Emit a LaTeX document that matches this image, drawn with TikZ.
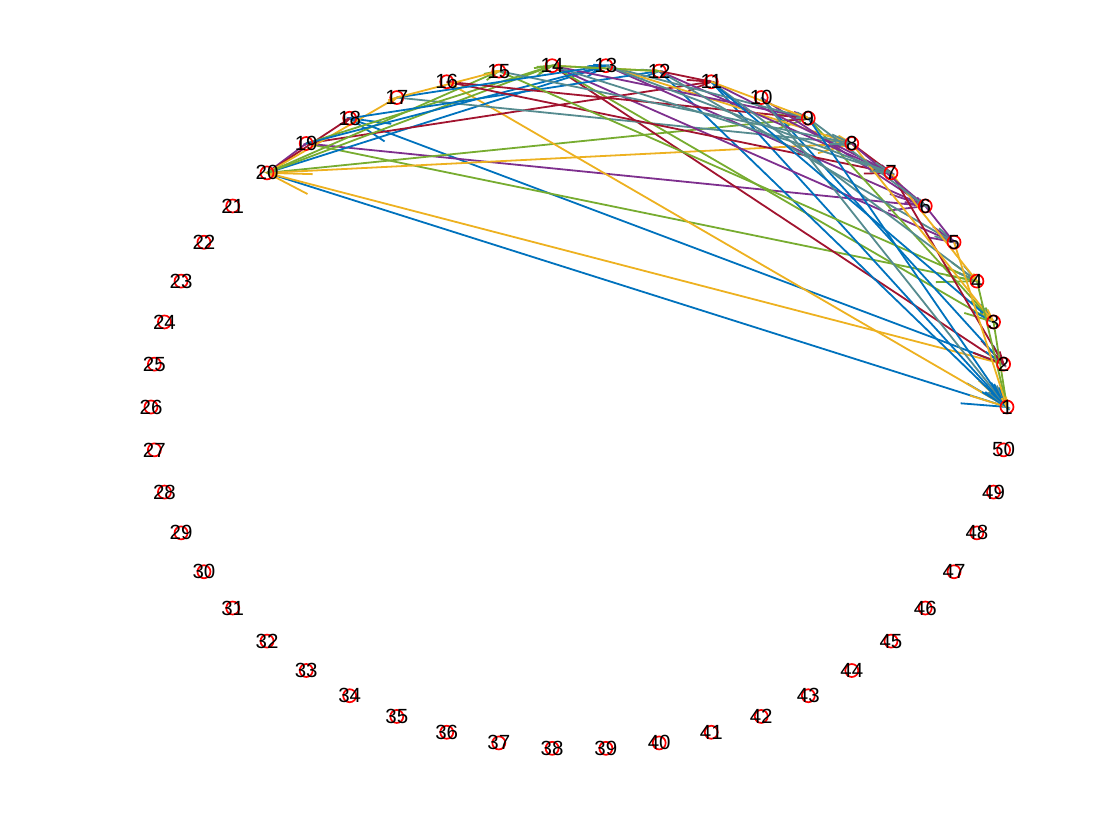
\documentclass[tikz,border=0pt]{standalone}
\usepackage{fontspec}
\setmainfont{Liberation Sans}
\usetikzlibrary{calc}
\definecolor{cB}{HTML}{0072BD}
\definecolor{cY}{HTML}{EDB120}
\definecolor{cP}{HTML}{7E2F8E}
\definecolor{cG}{HTML}{77AC30}
\definecolor{cR}{HTML}{A2142F}
\definecolor{cT}{HTML}{558B8F}
\tikzset{
  edge/.style={line width=1.8pt},
  marker/.style={circle,draw=red,line width=1.7pt,minimum size=13pt,inner sep=0pt},
  lab/.style={font=\fontsize{20.5}{20.5}\selectfont,inner sep=0pt,text=black}
}
\newcommand{\qv}[3]{%
  \draw[edge,#3] (n#1) -- (n#2);
  \draw[edge,#3] ($(n#2)!0.06!13:(n#1)$) -- (n#2) -- ($(n#2)!0.06!-13:(n#1)$);
}
\begin{document}
\begin{tikzpicture}[x=1pt,y=-1pt]
\useasboundingbox (0,0) rectangle (1120,840);
\foreach \i in {1,...,50}{
  \coordinate (n\i) at ({579+428*cos((\i-1)*7.2)},{407-342*sin((\i-1)*7.2)});
}
% edges
\qv{20}{1}{cB}
\qv{2}{20}{cY}
\qv{2}{18}{cB}
\qv{19}{4}{cG}
\qv{19}{6}{cP}
\qv{20}{9}{cG}
\qv{20}{8}{cY}
\qv{16}{1}{cY}
\qv{14}{2}{cR}
\qv{20}{13}{cB}
\qv{19}{11}{cR}
\qv{17}{8}{cT}
\qv{14}{3}{cG}
\qv{11}{1}{cB}
\qv{10}{2}{cB}
\qv{12}{1}{cB}
\qv{13}{6}{cP}
\qv{14}{5}{cP}
\qv{20}{19}{cP}
\qv{20}{18}{cR}
\qv{20}{17}{cY}
\qv{20}{15}{cG}
\qv{20}{14}{cG}
\qv{19}{14}{cG}
\qv{18}{12}{cB}
\qv{19}{13}{cB}
\qv{16}{7}{cR}
\qv{16}{9}{cR}
\qv{15}{4}{cG}
\qv{9}{3}{cG}
\qv{13}{8}{cY}
\qv{12}{7}{cP}
\qv{11}{7}{cP}
\qv{14}{9}{cP}
\qv{10}{6}{cP}
\qv{15}{8}{cT}
\qv{14}{7}{cT}
\qv{13}{9}{cT}
\qv{12}{5}{cT}
\qv{11}{4}{cT}
\qv{10}{1}{cT}
\qv{11}{3}{cB}
\qv{9}{1}{cB}
\qv{17}{13}{cB}
\qv{7}{2}{cR}
\qv{8}{7}{cR}
\qv{12}{11}{cR}
\qv{8}{3}{cY}
\qv{7}{4}{cY}
\qv{11}{9}{cY}
\qv{14}{12}{cY}
\qv{17}{15}{cY}
\qv{6}{5}{cP}
\qv{8}{6}{cP}
\qv{3}{1}{cG}
\qv{4}{1}{cG}
\qv{12}{14}{cG}
\qv{9}{6}{cT}
\qv{13}{7}{cT}
\qv{5}{1}{cY}
% markers and labels
\foreach \i in {1,...,50}{
  \node[marker] (m\i) at (n\i) {};
}
\foreach \i in {1,...,50}{
  \node[lab] (l\i) at (n\i) {\i};
}
\end{tikzpicture}
\end{document}
